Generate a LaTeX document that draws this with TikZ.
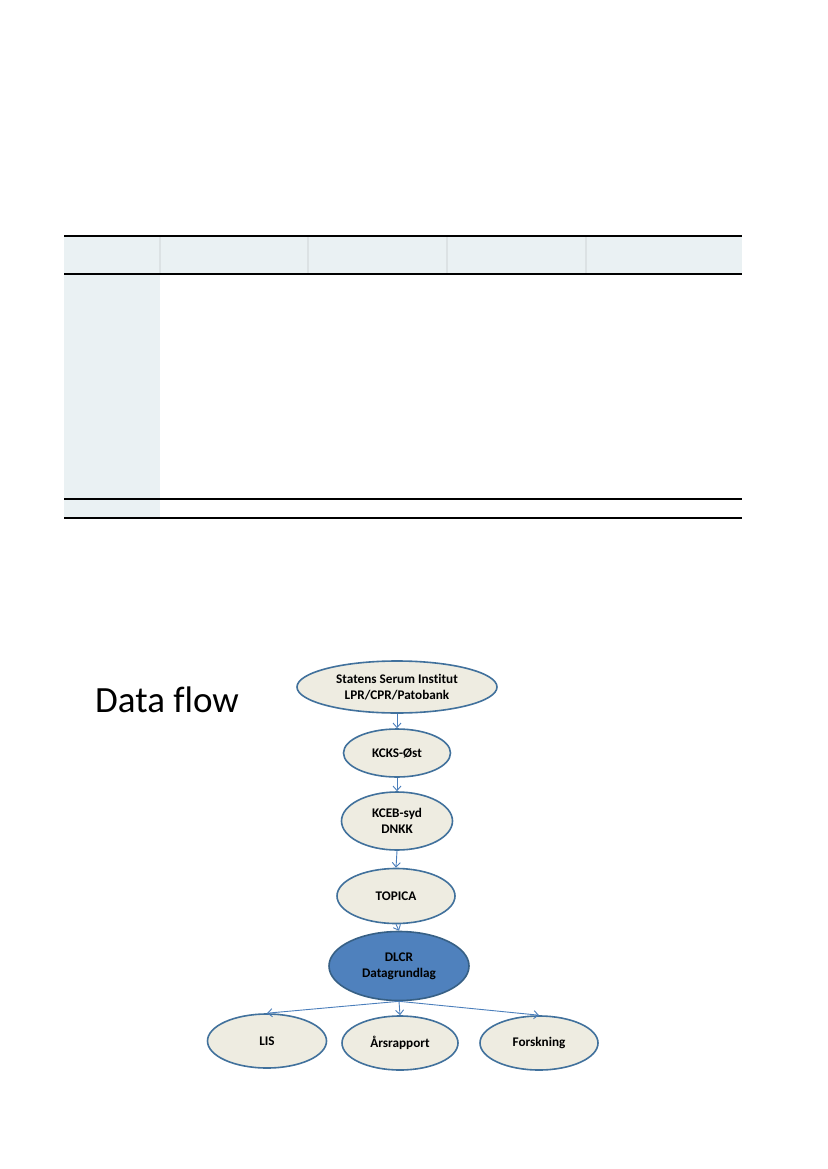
\documentclass[tikz,border=0pt]{standalone}
\usepackage{fontspec}
\setmainfont{Carlito}[Ligatures={NoCommon}]
\usetikzlibrary{shapes.geometric,arrows.meta}
\definecolor{hdrfill}{HTML}{EAF1F3}
\definecolor{ellfill}{HTML}{EEECE1}
\definecolor{ellline}{HTML}{41719C}
\definecolor{dlcrfill}{HTML}{4F81BD}
\definecolor{arrowc}{HTML}{4A7EBB}
\definecolor{sepc}{HTML}{DCE2E4}
\tikzset{
  flowell/.style={ellipse, draw=ellline, line width=1.6pt, fill=ellfill, inner sep=0pt,
    align=center, font=\fontsize{13.2}{15.7}\selectfont\bfseries},
  dlcrell/.style={flowell, fill=dlcrfill, draw=ellline!85!black},
  flowarrow/.style={draw=arrowc, line width=0.9pt, -{Straight Barb[length=4.5pt,width=8pt,line width=0.9pt]}},
  tablerule/.style={draw=black, line width=1.4pt},
  colsep/.style={draw=sepc, line width=1.2pt}
}
\begin{document}
\begin{tikzpicture}[x=1pt,y=-1pt]
\useasboundingbox (0,0) rectangle (827,1169);
\fill[white] (0,0) rectangle (827,1169);
% table
\fill[hdrfill] (64,236) rectangle (742,274);
\fill[hdrfill] (64,274) rectangle (160,518);
\foreach \xx in {160,308,447,586} {
  \draw[colsep] (\xx,236) -- (\xx,274);
}
\draw[tablerule] (64,236) -- (742,236);
\draw[tablerule] (64,274) -- (742,274);
\draw[tablerule] (64,499) -- (742,499);
\draw[tablerule] (64,518) -- (742,518);
% title
\node[anchor=base west, inner sep=0pt, font=\fontsize{37}{42}\selectfont] (title) at (95,712) {Data flow};
% flow chart
\node[flowell, minimum width=200pt, minimum height=52pt] (ssi) at (397,687) {Statens Serum Institut\\LPR/CPR/Patobank};
\node[flowell, minimum width=107pt, minimum height=48pt] (kcks) at (397,753) {KCKS-Øst};
\node[flowell, minimum width=111pt, minimum height=58pt] (kceb) at (397,821) {KCEB-syd\\DNKK};
\node[flowell, minimum width=118pt, minimum height=55pt] (topica) at (396,896) {TOPICA};
\node[dlcrell, minimum width=140pt, minimum height=69pt] (dlcr) at (399,966) {DLCR\\Datagrundlag};
\node[flowell, minimum width=119pt, minimum height=54pt] (lis) at (267,1041) {LIS};
\node[flowell, minimum width=116pt, minimum height=54pt] (aars) at (400,1043) {Årsrapport};
\node[flowell, minimum width=118pt, minimum height=54pt] (forsk) at (539,1043) {Forskning};
\draw[flowarrow] (ssi.south) -- (kcks.north);
\draw[flowarrow] (kcks.south) -- (kceb.north);
\draw[flowarrow] (kceb.south) -- (topica.north);
\draw[flowarrow] (topica.south) -- (dlcr.north);
\draw[flowarrow] (dlcr.south) -- (lis.north);
\draw[flowarrow] (dlcr.south) -- (aars.north);
\draw[flowarrow] (dlcr.south) -- (forsk.north);
\end{tikzpicture}
\end{document}
